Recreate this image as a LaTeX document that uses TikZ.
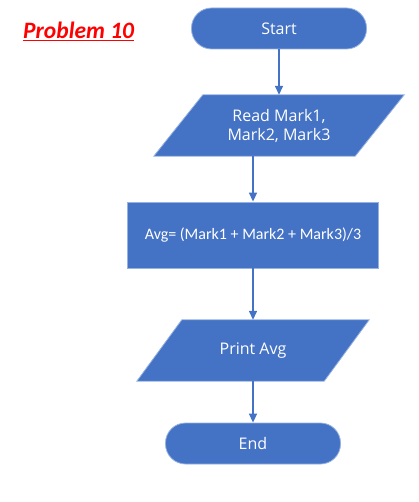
\documentclass[tikz,border=0pt]{standalone}
\usepackage{fontspec}
\setmainfont{Carlito}
\newfontfamily\comicf{Open Sans}
\usetikzlibrary{arrows.meta}
\definecolor{officeblue}{RGB}{68,114,196}
\definecolor{edgeblue}{RGB}{150,178,226}
\begin{document}
\begin{tikzpicture}[x=1pt,y=-1pt,
  shapefill/.style={fill=officeblue,draw=edgeblue,line width=0.8pt},
  terminal/.style={shapefill,rounded corners=20pt,minimum width=175pt,minimum height=41pt,inner sep=0pt,text=white,font=\comicf\fontsize{16}{19}\selectfont},
  iotext/.style={inner sep=0pt,minimum height=61pt,text=white,align=center,font=\comicf\fontsize{16}{19}\selectfont},
  procbox/.style={shapefill,minimum width=251pt,minimum height=66pt,inner sep=0pt,text=white,font=\fontsize{16}{19}\selectfont},
  flow/.style={draw=officeblue,line width=1.5pt,-{Triangle[length=9pt,width=8pt]}}
]
\useasboundingbox (0,0) rectangle (418,502);
\node[anchor=base west,inner sep=0pt,text=red,font=\bfseries\itshape\fontsize{23.5}{27}\selectfont] (title) at (23,39) {\underline{Problem 10}};
\node[terminal] (start) at (279,28.5) {Start};
\node[iotext,minimum width=152pt] (read) at (279,125.5) {};
\draw[shapefill] (read.north west) -- ([xshift=49pt]read.north east) -- (read.south east) -- ([xshift=-49pt]read.south west) -- cycle;
\node[iotext,minimum width=152pt] at (read.center) {Read Mark1,\\Mark2, Mark3};
\node[procbox] (avg) at (253,235) {Avg= (Mark1 + Mark2 + Mark3)/3};
\node[iotext,minimum width=142pt] (print) at (253,350.5) {};
\draw[shapefill] (print.north west) -- ([xshift=45pt]print.north east) -- (print.south east) -- ([xshift=-45pt]print.south west) -- cycle;
\node[iotext,minimum width=142pt] at (print.center) {Print Avg};
\node[terminal] (end) at (253,443.5) {End};
\draw[flow] (start.south) -- (read.north);
\draw[flow] (read.south -| avg.north) -- (avg.north);
\draw[flow] (avg.south) -- (print.north);
\draw[flow] (print.south) -- (end.north);
\end{tikzpicture}
\end{document}
